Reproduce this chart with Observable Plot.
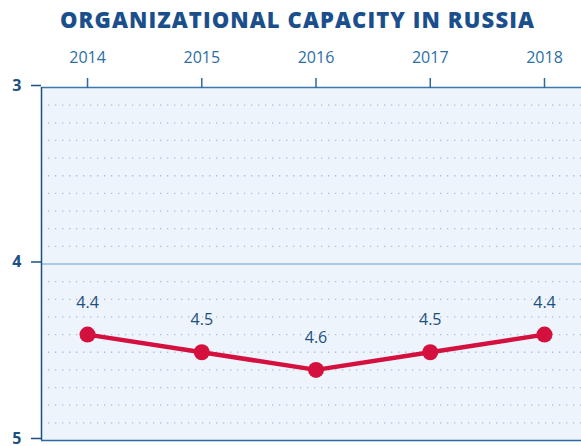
<!DOCTYPE html>
<html>
<head>
<meta charset="utf-8">
<script src="https://cdn.jsdelivr.net/npm/d3@7"></script>
<script src="https://cdn.jsdelivr.net/npm/@observablehq/plot@0.6"></script>
<style>
  html, body { margin: 0; padding: 0; background: #ffffff; width: 581px; height: 446px; overflow: hidden; }
  #title { height: 38px; line-height: 38px; text-align: center; font-family: "Open Sans", "DejaVu Sans", sans-serif; font-weight: 800; font-size: 22px; letter-spacing: 1.1px; color: #1b4f8c; padding-left: 14px; box-sizing: border-box; }
  #chart svg { display: block; }
</style>
</head>
<body>
<div id="title">ORGANIZATIONAL CAPACITY IN RUSSIA</div>
<div id="chart"></div>
<script>
const years = [2014, 2015, 2016, 2017, 2018];
const values = [4.4, 4.5, 4.6, 4.5, 4.4];
const yTicks = [3, 4, 5];
const dottedLevels = [3.1, 3.2, 3.3, 3.4, 3.5, 3.6, 3.7, 3.8, 3.9, 4.1, 4.2, 4.3, 4.4, 4.5, 4.6, 4.7, 4.8, 4.9];

const data = years.map((year, i) => ({year, value: values[i]}));

const chart = Plot.plot({
  width: 581,
  height: 408,
  marginLeft: 41,
  marginRight: 0,
  marginTop: 49,
  marginBottom: 6,
  style: {fontFamily: "'Open Sans', 'DejaVu Sans', sans-serif", background: "#ffffff", overflow: "visible"},
  x: {type: "linear", domain: [2013.597, 2018.324]},
  y: {domain: [3, 5], reverse: true},
  marks: [
    Plot.frame({fill: "#eef4fc", stroke: null}),
    Plot.ruleY(dottedLevels, {stroke: "#aebccd", strokeWidth: 1.3, strokeDasharray: "1.3,5.7"}),
    Plot.ruleY([4], {stroke: "#a9cbe8", strokeWidth: 2}),
    Plot.ruleY([3], {stroke: "#3a78ad", strokeWidth: 1.5}),
    Plot.ruleY([5], {stroke: "#2a6aa0", strokeWidth: 1.5}),
    Plot.ruleX([2013.597], {stroke: "#1d4f80", strokeWidth: 1.5}),
    Plot.axisX(years, {anchor: "top", tickFormat: "d", tickSize: 10, tickPadding: 15, fontSize: 16, stroke: "#2a6aa0", strokeWidth: 1.5, fill: "#2d6ea6", label: null}),
    Plot.axisY(yTicks, {anchor: "left", tickFormat: "d", tickSize: 10, tickPadding: 10, fontSize: 16, fontWeight: 700, stroke: "#1d4f80", strokeWidth: 1.5, fill: "#1d4f80", label: null, dy: -2}),
    Plot.line(data, {x: "year", y: "value", stroke: "#d4103f", strokeWidth: 4.5}),
    Plot.dot(data, {x: "year", y: "value", r: 8, fill: "#d4103f", stroke: null}),
    Plot.text(data, {x: "year", y: "value", text: d => d.value.toFixed(1), dy: -32, fontSize: 16, fill: "#1d4f80"})
  ]
});
document.getElementById("chart").appendChild(chart);
</script>
</body>
</html>
